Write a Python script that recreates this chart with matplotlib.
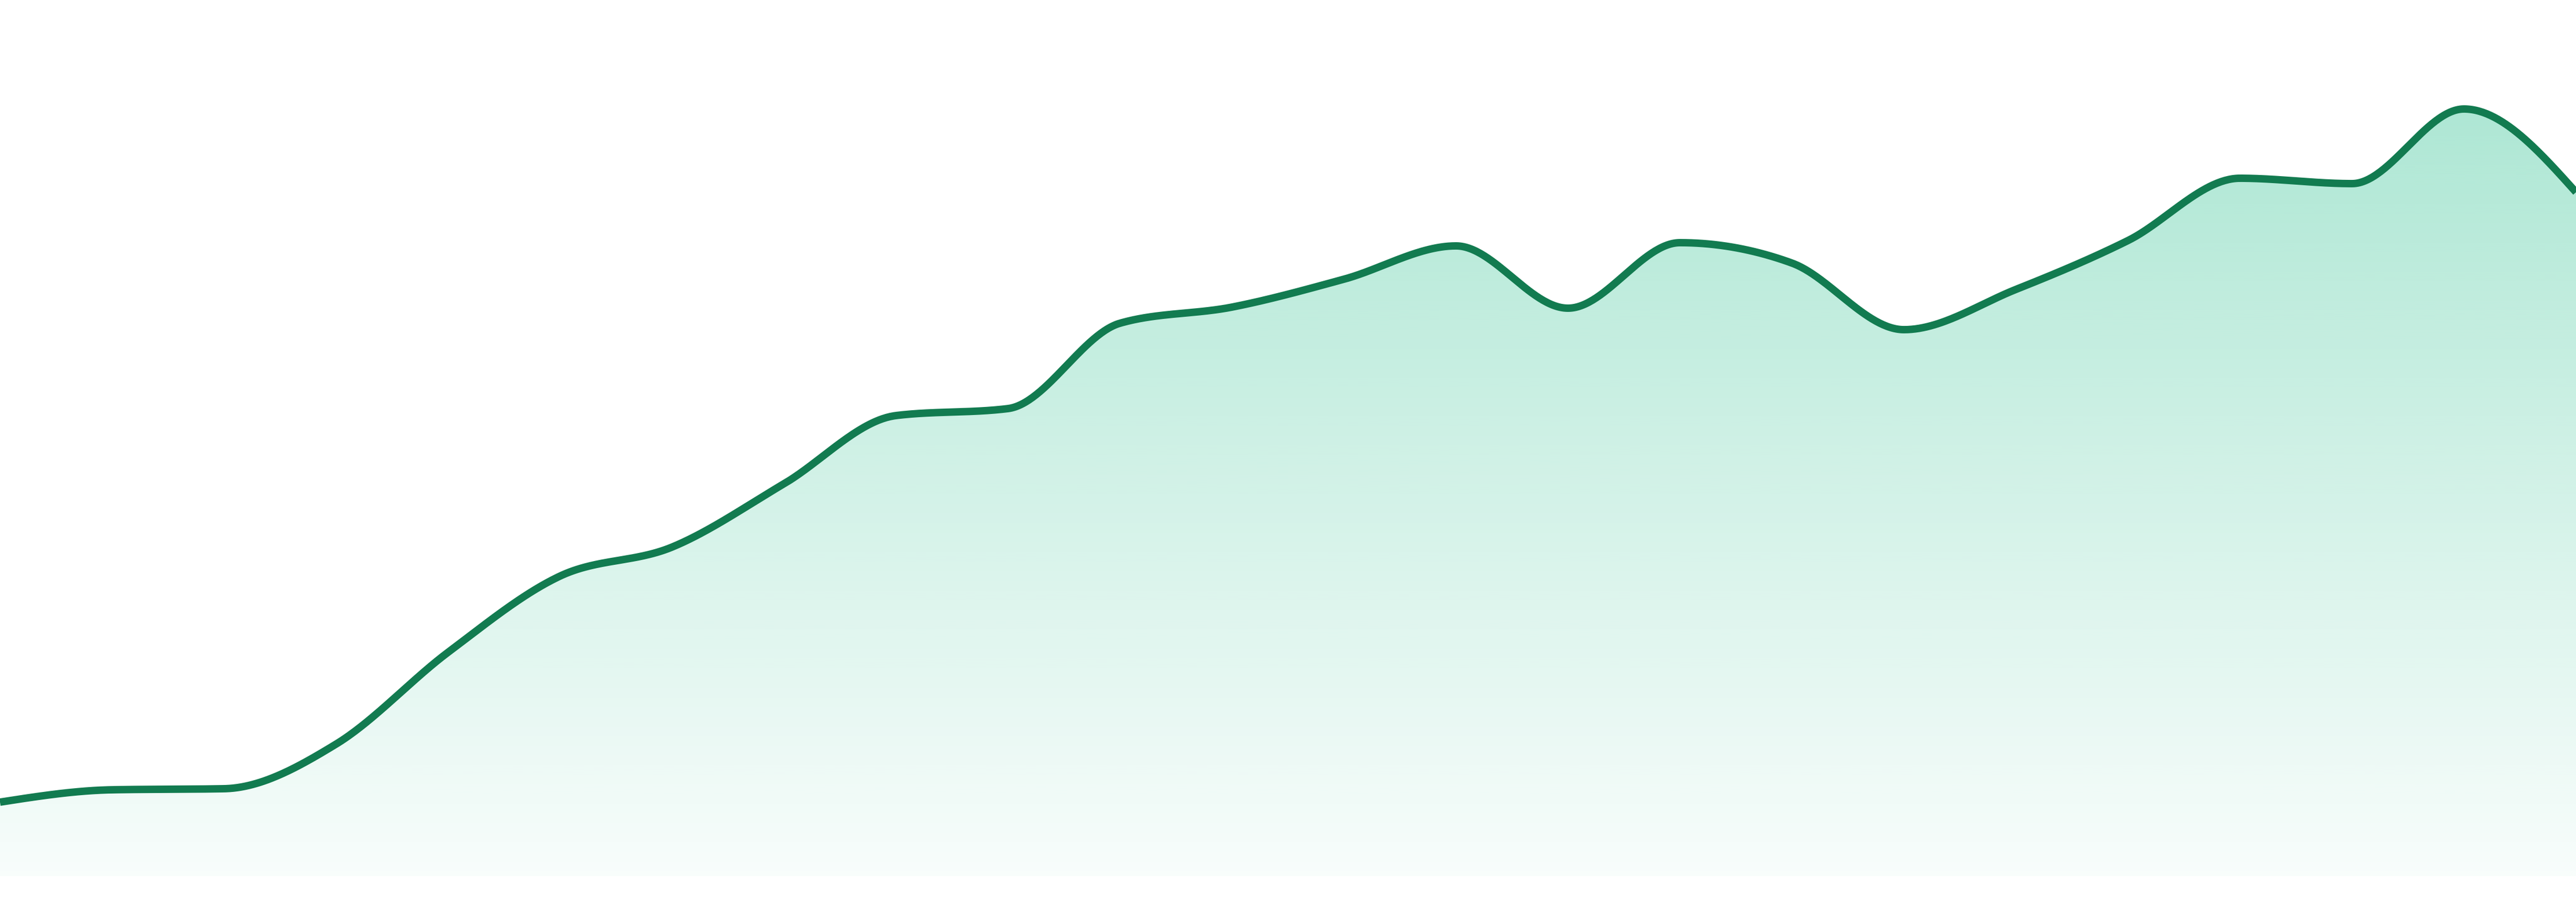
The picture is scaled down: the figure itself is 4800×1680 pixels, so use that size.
import numpy as np
import matplotlib
matplotlib.use("Agg")
import matplotlib.pyplot as plt
from matplotlib.patches import Polygon
from matplotlib.colors import to_rgb

# values (arbitrary units, 24 evenly spaced periods)
values = [13.8, 16.1, 16.3, 24.6, 41.7, 55.9, 61.3, 73.1, 85.8, 87.1, 103.0, 106.0,
          111.2, 117.4, 105.8, 118.0, 114.2, 101.8, 109.3, 118.4, 130.0, 129.0, 142.9, 127.4]
periods = np.arange(len(values))

line_color = "#127b50"
fill_color = "#10b981"


def monotone_x(x, y, n=60):
    # cubic segments with the tangents used by d3.curveMonotoneX
    x = np.asarray(x, float)
    y = np.asarray(y, float)
    h = np.diff(x)
    s = np.diff(y) / h
    t = np.zeros_like(y)
    for i in range(1, len(y) - 1):
        p = (s[i - 1] * h[i] + s[i] * h[i - 1]) / (h[i - 1] + h[i])
        t[i] = (np.sign(s[i - 1]) + np.sign(s[i])) * min(abs(s[i - 1]), abs(s[i]), 0.5 * abs(p))
    t[0] = (3 * s[0] - t[1]) / 2
    t[-1] = (3 * s[-1] - t[-2]) / 2

    xs, ys = [], []
    u = np.linspace(0, 1, n)
    for i in range(len(h)):
        dx = h[i] / 3
        p0, p3 = y[i], y[i + 1]
        p1 = y[i] + dx * t[i]
        p2 = y[i + 1] - dx * t[i + 1]
        seg_y = ((1 - u) ** 3 * p0 + 3 * (1 - u) ** 2 * u * p1
                 + 3 * (1 - u) * u ** 2 * p2 + u ** 3 * p3)
        seg_x = x[i] + u * h[i]
        if i > 0:
            seg_x, seg_y = seg_x[1:], seg_y[1:]
        xs.append(seg_x)
        ys.append(seg_y)
    return np.concatenate(xs), np.concatenate(ys)


cx, cy = monotone_x(periods, values)

fig = plt.figure(figsize=(48, 16.8), dpi=100)
fig.patch.set_facecolor("white")
ax = fig.add_axes([0, 48 / 1680, 1, 1632 / 1680])
ax.set_xlim(periods[0], periods[-1])
ax.set_ylim(0, 163.2)
ax.axis("off")

# vertical gradient under the curve
top = cy.max()
grad = np.zeros((256, 1, 4))
grad[..., :3] = to_rgb(fill_color)
grad[:, 0, 3] = np.linspace(0.34, 0.03, 256)
img = ax.imshow(grad, extent=[periods[0], periods[-1], 0, top],
                aspect="auto", origin="upper", interpolation="bicubic", zorder=1)
poly = Polygon(np.column_stack([np.r_[cx, cx[-1], cx[0]], np.r_[cy, 0, 0]]),
               closed=True, facecolor="none", edgecolor="none")
ax.add_patch(poly)
img.set_clip_path(poly)

ax.plot(cx, cy, color=line_color, lw=10, solid_capstyle="butt",
        solid_joinstyle="round", zorder=3)

fig.savefig("out.png", dpi=100, facecolor="white")
